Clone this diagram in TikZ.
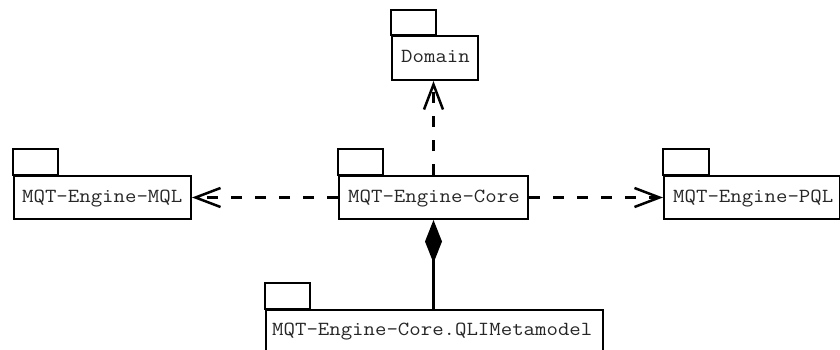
\documentclass[tikz,border=0pt]{standalone}
\usepackage{fontspec}
\setmonofont[FakeStretch=1.11]{Latin Modern Mono}
\usetikzlibrary{arrows.meta}
\tikzset{
  pkgbody/.style={draw, line width=2pt, anchor=north west, minimum height=43pt, inner sep=0pt},
  pkgtab/.style={draw, line width=2pt},
  pkgtext/.style={anchor=base west, inner sep=0pt, text=black!85,
    font=\ttfamily\fontsize{20}{22}\selectfont},
  dep/.style={line width=2.5pt, dash pattern=on 11pt off 13pt,
    -{Straight Barb[length=25pt,width=19pt]}},
  comp/.style={line width=2.5pt, -{Diamond[length=43pt,width=17pt]}},
}
\begin{document}
\begin{tikzpicture}[x=1pt, y=-1pt]
\useasboundingbox (0,0) rectangle (840,350);

% package bodies
\node[pkgbody, minimum width=86pt, minimum height=44pt] (domain) at (391,35) {};
\node[pkgbody, minimum width=177pt] (mql) at (13,175) {};
\node[pkgbody, minimum width=189pt] (core) at (338,175) {};
\node[pkgbody, minimum width=176pt] (pql) at (663,175) {};
\node[pkgbody, minimum width=337pt, minimum height=50pt] (qli) at (265,309) {};

% package tabs
\draw[pkgtab] (domain.north west) rectangle ++(45,-25);
\draw[pkgtab] (mql.north west) rectangle ++(45,-26);
\draw[pkgtab] (core.north west) rectangle ++(45,-26);
\draw[pkgtab] (pql.north west) rectangle ++(46,-26);
\draw[pkgtab] (qli.north west) rectangle ++(45,-26);

% package names
\node[pkgtext] (domainT) at ([xshift=10pt,yshift=-28pt]domain.north west) {Domain};
\node[pkgtext] (mqlT) at ([xshift=9pt,yshift=-27pt]mql.north west) {MQT-Engine-MQL};
\node[pkgtext] (coreT) at ([xshift=10pt,yshift=-27pt]core.north west) {MQT-Engine-Core};
\node[pkgtext] (pqlT) at ([xshift=10pt,yshift=-27pt]pql.north west) {MQT-Engine-PQL};
\node[pkgtext] (qliT) at ([xshift=7pt,yshift=-26pt]qli.north west) {MQT-Engine-Core.QLIMetamodel};

% dependencies
\draw[dep] (core.west) -- (mql.east);
\draw[dep] (core.east) -- (pql.west);
\draw[dep] (core.north) -- (core.north |- domain.south);

% composition
\draw[comp] (core.south |- qli.north) -- (core.south);
\end{tikzpicture}
\end{document}
